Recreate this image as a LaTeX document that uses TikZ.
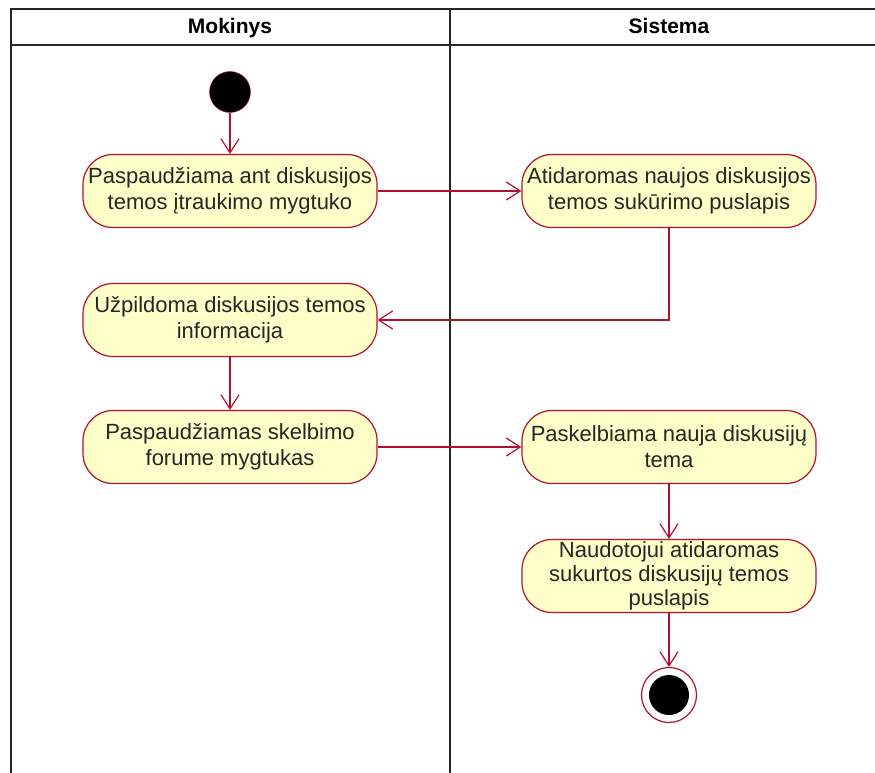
\documentclass[tikz,border=0pt]{standalone}
\usepackage{fontspec}
\setmainfont{Liberation Sans}
\usepackage{tikz}
\usetikzlibrary{arrows.meta}
\definecolor{umlred}{HTML}{B4102E}
\definecolor{umlfill}{HTML}{FEFEC8}
\tikzset{every picture/.append style={x=1pt, y=-1pt}}
\tikzset{action/.style={draw=umlred, fill=umlfill, line width=1.2pt, rounded corners=30pt, minimum width=294pt, minimum height=73pt, inner sep=0pt, align=center, text=black!85, font=\fontsize{22}{26}\selectfont}}
\tikzset{flow/.style={umlred, line width=1.2pt, -{Straight Barb[length=14pt, width=18pt]}}}
\tikzset{lane/.style={line width=1.5pt, black!85}}
\tikzset{lanename/.style={anchor=base, font=\fontsize{21}{25}\selectfont\bfseries}}
\tikzset{startdot/.style={circle, fill=black, draw=umlred, minimum size=41pt, inner sep=0pt}}
\tikzset{enddot/.style={circle, fill=white, draw=umlred, line width=1.2pt, minimum size=55pt, inner sep=0pt, path picture={\fill[black] (path picture bounding box.center) circle (20pt);}}}

\begin{document}
\begin{tikzpicture}
\useasboundingbox (0,0) rectangle (875,773);

%swimlanes
\draw[lane] (11,773)--(11,9)--(875,9);
\draw[lane] (11,45)--(875,45);
\draw[lane] (450,9)--(450,773);
\node (mok) at (230,34)[lanename]{Mokinys};
\node (sis) at (669,34)[lanename]{Sistema};

\node (st) at (230,92)[startdot]{};
\node (a1) at (230,191)[action]{Paspaudžiama ant diskusijos\\temos įtraukimo mygtuko};
\node (a2) at (669,191)[action]{Atidaromas naujos diskusijos\\temos sukūrimo puslapis};
\node (a3) at (230,320)[action]{Užpildoma diskusijos temos\\informacija};
\node (a4) at (230,447)[action]{Paspaudžiamas skelbimo\\forume mygtukas};
\node (a5) at (669,447)[action]{Paskelbiama nauja diskusijų\\tema};
\node (a6) at (669,576)[action, font=\fontsize{22}{24}\selectfont]{Naudotojui atidaromas\\sukurtos diskusijų temos\\puslapis};
\node (en) at (669,695)[enddot]{};

\draw[flow] (st)--(a1);
\draw[flow] (a1)--(a2);
\draw[flow] (a2)|-(a3);
\draw[flow] (a3)--(a4);
\draw[flow] (a4)--(a5);
\draw[flow] (a5)--(a6);
\draw[flow] (a6)--(en);

\end{tikzpicture}
\end{document}
